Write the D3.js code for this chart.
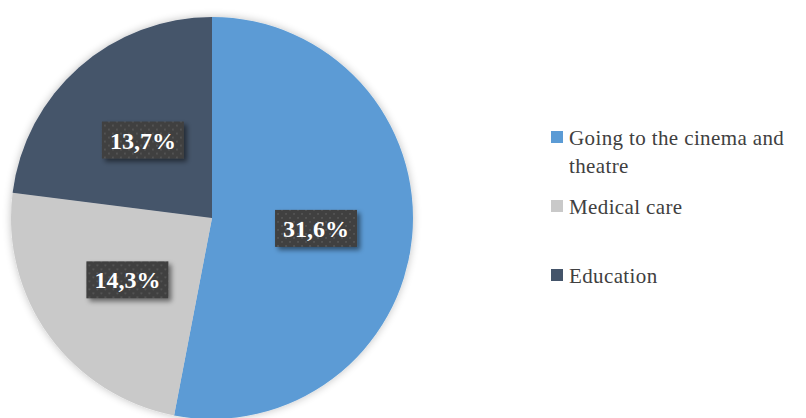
<!DOCTYPE html>
<html><head><meta charset="utf-8">
<script src="https://cdn.jsdelivr.net/npm/d3@7/dist/d3.min.js"></script>
</head><body style="margin:0">
<svg id="c" width="806" height="418" style="display:block"></svg>
<script>
const categories = ["Going to the cinema and theatre", "Medical care", "Education"];
const legendLines = [["Going to the cinema and", "theatre"], ["Medical care"], ["Education"]];
const values = [31.6, 14.3, 13.7];
const labels = ["31,6%", "14,3%", "13,7%"];
const colors = ["#5B9BD5", "#C9C9C9", "#44546A"];
const FONT = '"Liberation Serif"';

const svg = d3.select("#c");
const defs = svg.append("defs");
const sh = defs.append("filter").attr("id","sh").attr("x","-20%").attr("y","-20%").attr("width","140%").attr("height","140%");
sh.append("feGaussianBlur").attr("in","SourceAlpha").attr("stdDeviation",4);
sh.append("feOffset").attr("dx",0).attr("dy",0).attr("result","b");
sh.append("feComponentTransfer").append("feFuncA").attr("type","linear").attr("slope",0.25);
const m = sh.append("feMerge"); m.append("feMergeNode"); m.append("feMergeNode").attr("in","SourceGraphic");
const sh2 = defs.append("filter").attr("id","sh2").attr("x","-20%").attr("y","-20%").attr("width","150%").attr("height","160%");
sh2.append("feGaussianBlur").attr("in","SourceAlpha").attr("stdDeviation",2.5);
sh2.append("feOffset").attr("dx",3).attr("dy",3).attr("result","b");
sh2.append("feComponentTransfer").append("feFuncA").attr("type","linear").attr("slope",0.5);
const m2 = sh2.append("feMerge"); m2.append("feMergeNode"); m2.append("feMergeNode").attr("in","SourceGraphic");
const pat = defs.append("pattern").attr("id","dots").attr("width",8).attr("height",8).attr("patternUnits","userSpaceOnUse");
pat.append("rect").attr("width",8).attr("height",8).attr("fill","#3f3f3f");
pat.append("rect").attr("x",1).attr("y",1).attr("width",2).attr("height",2).attr("fill","#525252");
pat.append("rect").attr("x",5).attr("y",5).attr("width",2).attr("height",2).attr("fill","#525252");

const cx = 212, cy = 218, R = 201;
const pie = d3.pie().sort(null).value(d => d);
const arcs = pie(values);
const arc = d3.arc().innerRadius(0).outerRadius(R);
const g = svg.append("g").attr("transform", `translate(${cx},${cy})`);
g.append("g").attr("filter","url(#sh)").selectAll("path").data(arcs).join("path")
  .attr("d", arc).attr("fill", (d,i) => colors[i]);

const lblArc = d3.arc().innerRadius(R*0.52).outerRadius(R*0.52);
const lg = g.selectAll("g.lbl").data(arcs).join("g").attr("class","lbl")
  .attr("transform", d => { const [x,y] = lblArc.centroid(d); return `translate(${x},${y})`; });
lg.append("rect").attr("x",-41).attr("y",-18).attr("width",82).attr("height",37)
  .attr("fill","url(#dots)").attr("filter","url(#sh2)");
lg.append("text").attr("text-anchor","middle").attr("y",9)
  .style("font-family",FONT).style("font-weight","bold")
  .attr("font-size",24).attr("fill","#fff").text((d,i) => labels[i]);

const legY = [137, 206, 275];
const leg = svg.append("g");
categories.forEach((c,i) => {
  leg.append("rect").attr("x",551).attr("y",legY[i]-6).attr("width",12).attr("height",12).attr("fill",colors[i]);
  legendLines[i].forEach((l,j) => {
    leg.append("text").attr("x",569).attr("y",legY[i]+8+j*28)
      .style("font-family",FONT).attr("font-size",21).style("letter-spacing","0.38px")
      .attr("fill","#404040").text(l);
  });
});
</script>
</body></html>
